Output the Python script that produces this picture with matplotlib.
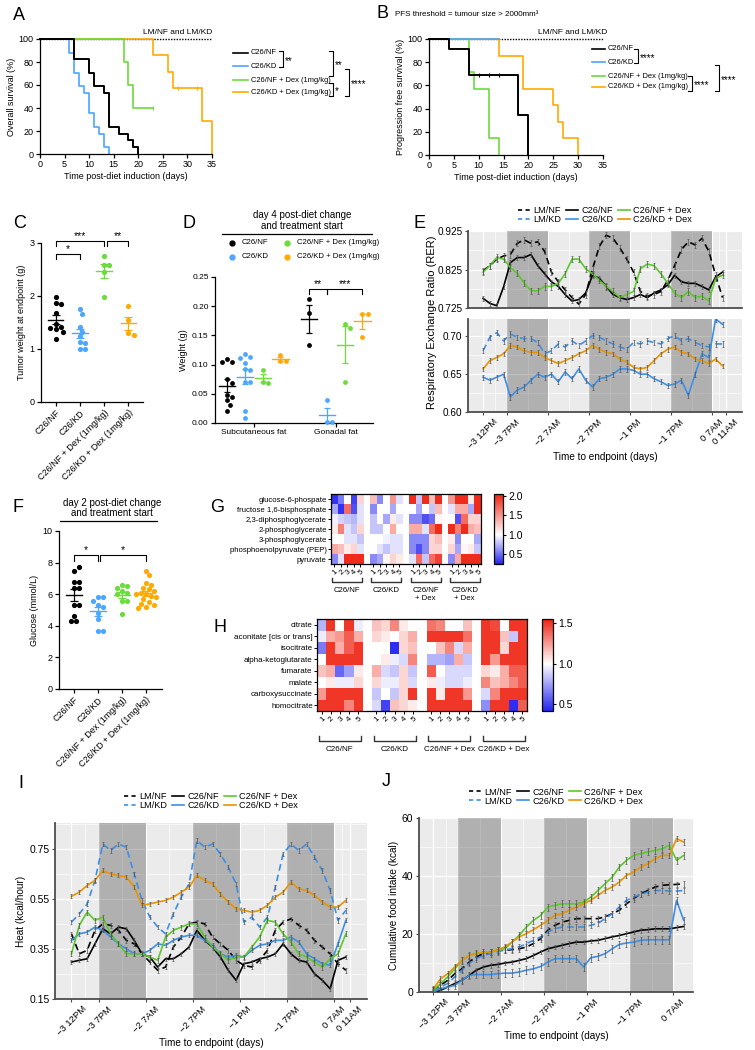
import numpy as np
import matplotlib
matplotlib.use('Agg')
import matplotlib.pyplot as plt
from matplotlib.lines import Line2D
from matplotlib.colors import LinearSegmentedColormap

plt.rcParams['font.family'] = ['Liberation Sans', 'DejaVu Sans']
plt.rcParams['axes.unicode_minus'] = True

# ---------------- data ----------------
groups = ['C26/NF', 'C26/KD', 'C26/NF + Dex (1mg/kg)', 'C26/KD + Dex (1mg/kg)']

# A: overall survival (days, %)
a_nf_t = [0, 7, 10, 11, 13, 14, 16, 18, 19, 20]
a_nf_s = [100, 82.4, 70.6, 58.8, 52.9, 23.5, 17.6, 11.8, 5.9, 0]
a_kd_t = [0, 6, 7, 8, 9, 10, 11, 12, 13, 14]
a_kd_s = [100, 88.2, 70.6, 58.8, 52.9, 35.3, 23.5, 17.6, 5.9, 0]
a_nfdex_t = [0, 17, 18, 19, 23]
a_nfdex_s = [100, 80, 60, 40, 40]
a_kddex_t = [0, 23, 26, 27, 33, 35]
a_kddex_s = [100, 85.7, 71.4, 57.1, 28.6, 0]

# B: progression free survival (days, %)
b_nf_t = [0, 4, 8, 18, 20]
b_nf_s = [100, 91.7, 68.8, 34.4, 0]
b_kd_t = [0, 14]
b_kd_s = [100, 100]
b_nfdex_t = [0, 8, 9, 12, 14]
b_nfdex_s = [100, 71.4, 57.1, 14.3, 0]
b_kddex_t = [0, 14, 19, 25, 26, 27, 30]
b_kddex_s = [100, 85.7, 57.1, 42.9, 28.6, 14.3, 0]

# C: tumour weight (g)
c_nf = [1.99, 1.87, 1.84, 1.67, 1.48, 1.42, 1.40, 1.38, 1.33, 1.18]
c_kd = [1.75, 1.66, 1.42, 1.33, 1.24, 1.14, 1.12, 1.00, 1.00]
c_nfdex = [2.75, 2.58, 2.58, 2.45, 1.99]
c_kddex = [1.82, 1.55, 1.30, 1.26]

# D: fat weight (g)
d_sub = [[0.109, 0.104, 0.104, 0.075, 0.068, 0.048, 0.044, 0.039, 0.031, 0.020],
         [0.118, 0.113, 0.112, 0.102, 0.092, 0.090, 0.070, 0.070, 0.021, 0.008],
         [0.091, 0.071, 0.068],
         [0.117, 0.106, 0.106]]
d_gon = [[0.212, 0.189, 0.133],
         [0.039, 0.001, 0.001],
         [0.169, 0.163, 0.071],
         [0.187, 0.187, 0.148]]

# F: glucose (mmol/L)
f_nf = [7.5, 7.7, 6.8, 6.8, 6.4, 6.4, 5.3, 5.3, 4.6, 4.3, 4.3]
f_kd = [5.8, 5.8, 5.6, 5.3, 5.2, 4.8, 4.4, 3.7, 3.7]
f_nfdex = [6.6, 6.5, 6.4, 6.2, 6.1, 6.0, 5.6, 5.6, 4.75]
f_kddex = [7.5, 7.2, 6.7, 6.6, 6.4, 6.3, 6.2, 6.1, 6.0, 6.0, 5.9, 5.8, 5.7, 5.5, 5.4, 5.3, 5.2, 5.1]

# G: glycolysis metabolites (fold change), 5 mice per group
g_rows = ['glucose-6-phospate', 'fructose 1,6-bisphosphate', '2,3-diphosphoglycerate',
          '2-phosphoglycerate', '3-phosphoglycerate', 'phosphoenolpyruvate (PEP)', 'pyruvate']
g_nf = [[0.3, 0.55, 1.0, 0.35, 1.2], [0.7, 0.3, 1.7, 0.4, 0.9], [0.95, 0.85, 0.8, 0.75, 0.9],
        [1.1, 1.6, 0.9, 0.8, 1.2], [1.0, 1.0, 0.9, 0.9, 0.8], [1.4, 1.3, 1.1, 1.2, 0.9],
        [0.6, 0.9, 2.0, 2.0, 2.0]]
g_kd = [[1.3, 0.6, 1.0, 1.5, 0.9], [0.6, 1.0, 1.0, 0.7, 1.0], [0.8, 1.0, 0.7, 1.1, 0.9],
        [0.8, 0.8, 1.0, 1.4, 1.0], [1.0, 1.0, 0.95, 0.9, 0.9], [1.0, 0.9, 0.8, 0.9, 0.9],
        [0.6, 0.7, 1.05, 1.2, 1.1]]
g_nfdex = [[2.0, 0.8, 2.0, 1.3, 2.0], [1.0, 0.7, 1.0, 0.8, 1.3], [0.6, 0.6, 0.4, 0.5, 1.05],
           [1.4, 1.4, 0.9, 1.7, 2.0], [0.6, 0.6, 0.6, 1.2, 1.3], [0.6, 0.4, 0.6, 1.2, 1.2],
           [0.9, 1.7, 0.8, 1.7, 1.9]]
g_kddex = [[1.5, 2.0, 2.0, 1.1, 2.0], [0.9, 1.4, 1.4, 0.7, 2.0], [1.0, 0.4, 1.7, 1.2, 1.2],
           [2.0, 1.6, 2.0, 1.4, 1.3], [1.1, 0.6, 1.0, 1.0, 0.7], [1.2, 0.7, 1.05, 1.1, 0.8],
           [0.6, 1.4, 2.0, 2.0, 2.0]]

# H: TCA metabolites (fold change)
h_rows = ['citrate', 'aconitate [cis or trans]', 'isocitrate', 'alpha-ketoglutarate',
          'fumarate', 'malate', 'carboxysuccinate', 'homocitrate']
h_nf = [[0.8, 1.5, 1.0, 1.5, 0.95], [0.95, 1.2, 1.25, 1.4, 1.2], [0.65, 1.5, 1.2, 1.4, 1.5],
        [1.0, 1.5, 1.5, 1.5, 1.5], [1.15, 1.2, 0.6, 0.75, 1.05], [1.0, 1.05, 0.95, 0.95, 1.1],
        [1.25, 1.5, 1.5, 1.5, 1.5], [1.5, 1.5, 1.5, 1.3, 1.5]]
h_kd = [[1.15, 1.1, 1.3, 1.05, 1.0], [1.1, 1.05, 1.0, 1.1, 1.2], [1.0, 1.0, 0.45, 1.1, 1.15],
        [1.0, 1.05, 0.95, 0.9, 1.3], [1.2, 0.9, 0.85, 1.1, 0.85], [1.1, 0.95, 0.95, 1.1, 0.9],
        [0.85, 1.0, 0.85, 1.1, 1.5], [0.9, 0.5, 1.15, 1.1, 1.05]]
h_nfdex = [[1.35, 1.3, 1.0, 1.0, 1.15], [1.5, 1.5, 1.5, 1.5, 1.35], [1.0, 1.15, 1.3, 0.9, 1.2],
           [0.8, 0.8, 0.75, 1.2, 0.85], [1.4, 1.0, 0.9, 0.9, 0.9], [1.05, 0.95, 0.9, 0.9, 0.95],
           [1.5, 1.05, 1.5, 1.5, 1.25], [1.5, 1.5, 1.5, 1.5, 1.5]]
h_kddex = [[1.5, 1.45, 1.0, 1.5, 1.5], [1.5, 1.5, 1.15, 0.85, 1.5], [1.5, 1.5, 1.1, 1.5, 1.5],
           [1.5, 1.25, 1.5, 1.5, 1.5], [1.1, 1.05, 1.2, 1.4, 1.4], [1.3, 1.15, 1.2, 1.3, 1.4],
           [0.9, 1.3, 1.5, 1.5, 1.5], [0.7, 1.5, 1.5, 0.45, 1.4]]

# E, I, J: metabolic cages, hours from start of recording (every 2 h)
hours = np.arange(0, 72, 2)
nights = [(7, 19), (31, 43), (55, 67)]
tick_hours = [0, 7, 19, 31, 43, 55, 67, 71]
tick_labels = ['\u22123 12PM', '\u22123 7PM', '\u22122 7AM', '\u22122 7PM', '\u22121 PM',
               '\u22121 7PM', '0 7AM', '0 11AM']

e_lmnf = [0.822, 0.835, 0.852, 0.860, 0.864, 0.893, 0.902, 0.893, 0.897, 0.872, 0.818, 0.793,
          0.772, 0.752, 0.735, 0.760, 0.827, 0.885, 0.914, 0.906, 0.881, 0.852, 0.818, 0.768,
          0.756, 0.760, 0.768, 0.797, 0.835, 0.877, 0.897, 0.889, 0.906, 0.872, 0.810, 0.752]
e_nf = [0.750, 0.737, 0.731, 0.780, 0.843, 0.856, 0.856, 0.864, 0.835, 0.814, 0.793, 0.781,
        0.760, 0.743, 0.747, 0.764, 0.810, 0.802, 0.781, 0.760, 0.752, 0.747, 0.752, 0.760,
        0.752, 0.764, 0.772, 0.785, 0.810, 0.793, 0.789, 0.789, 0.781, 0.772, 0.806, 0.818]
e_nfdex = [0.818, 0.835, 0.856, 0.852, 0.830, 0.815, 0.790, 0.770, 0.770, 0.781, 0.781, 0.789,
           0.814, 0.852, 0.852, 0.827, 0.814, 0.797, 0.781, 0.768, 0.752, 0.760, 0.768, 0.827,
           0.839, 0.835, 0.814, 0.789, 0.764, 0.752, 0.768, 0.752, 0.756, 0.743, 0.802, 0.810]
e_lmkd = [0.681, 0.699, 0.705, 0.694, 0.703, 0.699, 0.697, 0.697, 0.692, 0.677, 0.681, 0.690,
          0.686, 0.694, 0.688, 0.694, 0.701, 0.699, 0.694, 0.690, 0.686, 0.683, 0.692, 0.690,
          0.694, 0.692, 0.690, 0.697, 0.701, 0.694, 0.697, 0.692, 0.688, 0.686, 0.690, 0.690]
e_kd = [0.646, 0.642, 0.646, 0.650, 0.620, 0.629, 0.633, 0.642, 0.650, 0.646, 0.650, 0.640,
        0.653, 0.644, 0.657, 0.642, 0.633, 0.644, 0.646, 0.650, 0.657, 0.657, 0.655, 0.650,
        0.650, 0.644, 0.640, 0.635, 0.637, 0.642, 0.622, 0.650, 0.677, 0.672, 0.723, 0.716]
e_kddex = [0.657, 0.668, 0.672, 0.677, 0.688, 0.686, 0.681, 0.679, 0.679, 0.672, 0.668, 0.664,
           0.668, 0.672, 0.677, 0.681, 0.688, 0.683, 0.679, 0.677, 0.670, 0.666, 0.659, 0.657,
           0.659, 0.668, 0.677, 0.683, 0.686, 0.679, 0.677, 0.670, 0.668, 0.664, 0.670, 0.661]

i_lmnf = [0.411, 0.331, 0.345, 0.425, 0.451, 0.445, 0.425, 0.385, 0.371, 0.331, 0.298, 0.265,
          0.278, 0.358, 0.398, 0.451, 0.458, 0.451, 0.398, 0.371, 0.345, 0.305, 0.285, 0.278,
          0.305, 0.345, 0.425, 0.458, 0.471, 0.445, 0.425, 0.385, 0.358, 0.331, 0.291, 0.265]
i_lmkd = [0.458, 0.491, 0.531, 0.625, 0.771, 0.745, 0.771, 0.758, 0.651, 0.545, 0.478, 0.438,
          0.411, 0.491, 0.558, 0.611, 0.785, 0.758, 0.771, 0.731, 0.678, 0.611, 0.458, 0.478,
          0.438, 0.478, 0.598, 0.731, 0.771, 0.745, 0.771, 0.718, 0.665, 0.585, 0.465, 0.505]
i_nf = [0.298, 0.305, 0.311, 0.371, 0.431, 0.411, 0.438, 0.431, 0.385, 0.331, 0.318, 0.278,
        0.311, 0.311, 0.331, 0.358, 0.425, 0.385, 0.358, 0.318, 0.265, 0.225, 0.291, 0.298,
        0.311, 0.318, 0.331, 0.371, 0.331, 0.305, 0.298, 0.251, 0.225, 0.191, 0.305, 0.318]
i_kd = [0.385, 0.411, 0.418, 0.438, 0.425, 0.398, 0.371, 0.351, 0.331, 0.331, 0.345, 0.371,
        0.365, 0.385, 0.398, 0.405, 0.405, 0.385, 0.365, 0.331, 0.318, 0.325, 0.318, 0.345,
        0.365, 0.371, 0.385, 0.385, 0.398, 0.378, 0.331, 0.311, 0.291, 0.285, 0.371, 0.465]
i_nfdex = [0.331, 0.445, 0.498, 0.465, 0.478, 0.411, 0.371, 0.331, 0.331, 0.331, 0.318, 0.305,
           0.398, 0.425, 0.438, 0.451, 0.451, 0.398, 0.358, 0.331, 0.305, 0.318, 0.318, 0.358,
           0.398, 0.465, 0.458, 0.411, 0.378, 0.331, 0.318, 0.298, 0.278, 0.311, 0.331, 0.411]
i_kddex = [0.561, 0.578, 0.605, 0.625, 0.665, 0.651, 0.645, 0.638, 0.600, 0.525, 0.531, 0.538,
           0.545, 0.558, 0.578, 0.598, 0.645, 0.625, 0.611, 0.571, 0.538, 0.511, 0.505, 0.498,
           0.505, 0.525, 0.558, 0.578, 0.618, 0.591, 0.585, 0.565, 0.538, 0.518, 0.518, 0.545]

j_lmnf = [0.6, 2.3, 4.0, 6.3, 8.0, 10.3, 12.1, 13.2, 13.8, 14.4, 14.4, 14.6, 14.9, 15.5, 16.7,
          18.4, 21.3, 23.0, 24.1, 24.7, 25.3, 25.3, 25.3, 25.3, 25.9, 27.0, 28.2, 30.4, 32.2,
          33.9, 35.0, 36.2, 36.8, 37.0, 37.1, 37.3]
j_lmkd = [0.2, 1.7, 2.9, 5.2, 7.5, 9.8, 11.5, 12.6, 13.2, 13.8, 14.6, 14.9, 15.5, 16.7, 17.8,
          19.0, 20.7, 21.8, 22.4, 22.4, 22.4, 22.4, 23.0, 23.6, 25.3, 27.0, 29.3, 31.6, 32.7,
          33.7, 34.5, 35.0, 35.0, 34.8, 34.8, 35.0]
j_nf = [0.0, 0.6, 1.7, 2.9, 4.0, 5.7, 7.5, 8.6, 9.2, 9.5, 10.0, 10.3, 10.9, 11.5, 12.6, 13.8,
        14.9, 15.5, 16.1, 16.7, 17.2, 17.2, 17.6, 17.8, 18.4, 19.0, 19.5, 20.1, 20.7, 21.3,
        21.5, 21.8, 21.8, 21.8, 22.2, 22.6]
j_kd = [0.0, 1.1, 1.7, 2.3, 4.0, 5.7, 6.0, 6.0, 6.0, 6.3, 6.5, 6.5, 6.9, 7.5, 8.0, 8.8, 10.3,
        11.5, 11.5, 11.5, 11.5, 8.6, 11.8, 12.3, 13.2, 14.9, 16.4, 16.9, 17.2, 17.8, 18.0, 18.0,
        18.0, 18.0, 31.6, 24.7]
j_nfdex = [0.5, 2.9, 5.2, 8.0, 10.9, 12.6, 13.4, 13.6, 13.8, 14.4, 14.9, 17.2, 19.5, 22.4,
           24.7, 26.4, 29.3, 29.9, 30.4, 30.4, 30.4, 31.0, 32.7, 35.0, 37.3, 39.6, 43.1, 45.4,
           47.1, 47.7, 48.3, 48.8, 49.4, 50.6, 45.4, 47.1]
j_kddex = [1.0, 4.5, 6.3, 8.6, 10.9, 12.6, 13.2, 13.8, 13.8, 14.6, 15.5, 17.2, 19.0, 20.1,
           21.5, 23.0, 24.7, 26.4, 27.0, 28.2, 29.3, 30.4, 31.6, 33.3, 35.0, 36.2, 37.9, 40.2,
           41.4, 43.1, 44.2, 46.0, 47.1, 47.1, 52.9, 51.7]

# ---------------- styling ----------------
W, H = 755, 1050
fig = plt.figure(figsize=(W / 100, H / 100), dpi=100)

p_cols = ['black', '#4da6ff', '#6ddb3c', '#ffaa00']   # GraphPad panels
g_cols = ['black', '#3d8fe6', '#5cc92a', '#e89400']   # ggplot panels


def box(l, t, r, b):
    return fig.add_axes([l / W, 1 - b / H, (r - l) / W, (b - t) / H])


def T(x, y, s, size=6.5, **kw):
    kw.setdefault('ha', 'left')
    kw.setdefault('va', 'center')
    fig.text(x / W, 1 - y / H, s, fontsize=size, **kw)


def fline(xs, ys, **kw):
    kw.setdefault('color', 'black')
    kw.setdefault('lw', 0.8)
    fig.add_artist(Line2D([x / W for x in xs], [1 - y / H for y in ys], **kw))


def rbracket(x, y1, y2, txt):
    fline([x - 4, x, x, x - 4], [y1, y1, y2, y2])
    T(x + 2, (y1 + y2) / 2 + 2, txt, 7)


def prism(ax, fs=6.5):
    for s in ('top', 'right'):
        ax.spines[s].set_visible(False)
    for s in ('left', 'bottom'):
        ax.spines[s].set_linewidth(0.9)
    ax.tick_params(direction='out', length=3, width=0.9, labelsize=fs, pad=1.5)


def gg(ax, fs=7.5):
    ax.set_facecolor('#ebebeb')
    for s in ('top', 'right'):
        ax.spines[s].set_visible(False)
    for s in ('left', 'bottom'):
        ax.spines[s].set_color('#4d4d4d')
        ax.spines[s].set_linewidth(1.3)
    ax.set_axisbelow(True)
    ax.grid(True, which='major', color='white', lw=0.9)
    ax.grid(True, which='minor', color='white', lw=0.45)
    ax.tick_params(which='major', length=2.5, color='#4d4d4d', labelsize=fs, pad=1.5)
    ax.tick_params(which='minor', length=0)
    for a, b in nights:
        ax.axvspan(a, b, color='black', alpha=0.25, lw=0, zorder=1)
    ax.set_xticks(tick_hours)
    mids = [(tick_hours[k] + tick_hours[k + 1]) / 2 for k in range(len(tick_hours) - 1)]
    ax.set_xticks(mids, minor=True)


def time_labels(ax, labels, fs=6.8):
    # ggplot-like 45 degree labels: bounding box centred under the tick
    ax.set_xticklabels(labels, rotation=45, ha='center', va='top', fontsize=fs)


def series(ax, y, col, dashed, err):
    ls = (0, (4, 2.5)) if dashed else '-'
    ax.plot(hours, y, color=col, lw=1.2, ls=ls, zorder=3, clip_on=True)
    ax.errorbar(hours, y, yerr=err, fmt='none', ecolor='#555555', elinewidth=0.5,
                capsize=1.0, capthick=0.5, zorder=4)


def gg_legend(ax, y_anchor):
    hs = [Line2D([], [], color=g_cols[0], ls=(0, (2.5, 2)), lw=1.2),
          Line2D([], [], color=g_cols[1], ls=(0, (2.5, 2)), lw=1.2),
          Line2D([], [], color=g_cols[0], lw=1.2), Line2D([], [], color=g_cols[1], lw=1.2),
          Line2D([], [], color=g_cols[2], lw=1.2), Line2D([], [], color=g_cols[3], lw=1.2)]
    labs = ['LM/NF', 'LM/KD', 'C26/NF', 'C26/KD', 'C26/NF + Dex', 'C26/KD + Dex']
    ax.legend(hs, labs, ncol=3, loc='lower center', bbox_to_anchor=(0.5, y_anchor),
              frameon=False, fontsize=6.6, handlelength=1.3, columnspacing=0.5,
              labelspacing=0.0, handletextpad=0.35, borderpad=0.1)


def swarm(vals, ypx, xpx, d=5.2):
    pts, offs = [], []
    for v in vals:
        y = v * ypx
        pos = 0.0
        for k in range(40):
            cands = [0.0] if k == 0 else [k * d * 0.5, -k * d * 0.5]
            hit = [c for c in cands if all((c - px) ** 2 + (y - py) ** 2 >= d * d * 0.95
                                          for px, py in pts)]
            if hit:
                pos = hit[0]
                break
        pts.append((pos, y))
        offs.append(pos / xpx)
    return np.array(offs)


def dots(ax, x0, vals, col, ypx, xpx, mean_w, cap, s=14):
    vals = np.array(vals)
    ax.scatter(x0 + swarm(vals, ypx, xpx), vals, s=s, color=col, lw=0, zorder=3, clip_on=False)
    m = vals.mean()
    se = vals.std(ddof=1) / np.sqrt(len(vals))
    ax.plot([x0 - mean_w, x0 + mean_w], [m, m], color=col, lw=1.0, zorder=4)
    ax.errorbar(x0, m, yerr=se, color=col, lw=0.9, capsize=cap, capthick=0.9, zorder=4)


def sig(ax, x1, x2, y, drop, txt):
    ax.plot([x1, x1, x2, x2], [y - drop, y, y, y - drop], color='black', lw=0.8, clip_on=False)
    ax.text((x1 + x2) / 2, y, txt, ha='center', va='bottom', fontsize=7.5)


def heat(ax, cax, mats, rows, vmin, vmax, ticks, glabels, fs, br_y, lab_y):
    gap = np.full((len(rows), 1), np.nan)
    M = np.hstack([np.array(mats[0]), gap, np.array(mats[1]), gap,
                   np.array(mats[2]), gap, np.array(mats[3])])
    cmap = LinearSegmentedColormap.from_list(
        'bwr_c', [(0, '#2424f2'), ((1 - vmin) / (vmax - vmin), 'white'), (1, '#ee2211')])
    im = ax.pcolormesh(np.ma.masked_invalid(M), cmap=cmap, vmin=vmin, vmax=vmax)
    ax.set_xlim(0, M.shape[1])
    ax.set_ylim(len(rows), 0)
    ax.set_yticks(np.arange(len(rows)) + 0.5)
    ax.set_yticklabels(rows, fontsize=fs)
    cols = [g * 6 + k + 0.5 for g in range(4) for k in range(5)]
    ax.set_xticks(cols)
    ax.set_xticklabels([str(k + 1) for g in range(4) for k in range(5)], fontsize=fs,
                       rotation=45, ha='right', rotation_mode='anchor')
    ax.tick_params(length=2, width=0.7, pad=1)
    for s in ax.spines.values():
        s.set_linewidth(0.9)
    tr = ax.get_xaxis_transform()
    for g in range(4):
        x1, x2 = g * 6 + 0.2, g * 6 + 4.8
        ax.plot([x1, x1, x2, x2], [br_y + 0.06, br_y, br_y, br_y + 0.06], color='#333333',
                lw=1.0, transform=tr, clip_on=False)
        ax.text(g * 6 + 2.5, lab_y, glabels[g], transform=tr, ha='center', va='top',
                fontsize=fs, linespacing=1.1)
    cb = fig.colorbar(im, cax=cax, ticks=ticks)
    cb.outline.set_linewidth(0.9)
    cb.ax.tick_params(labelsize=7.5, length=2.5, width=0.8, pad=1.5)
    cb.ax.set_yticklabels(['%.1f' % t for t in ticks])


# ---------------- A ----------------
ax = box(40, 39, 212, 154)
prism(ax)
ax.plot([0, 35], [100, 100], color='black', lw=1.0, ls=(0, (1, 1)), clip_on=False, zorder=1)
ax.step(a_kddex_t, a_kddex_s, where='post', color=p_cols[3], lw=1.2, clip_on=False)
ax.step(a_nfdex_t, a_nfdex_s, where='post', color=p_cols[2], lw=1.2, clip_on=False)
ax.step(a_kd_t, a_kd_s, where='post', color=p_cols[1], lw=1.2, clip_on=False)
ax.step(a_nf_t, a_nf_s, where='post', color=p_cols[0], lw=1.4, clip_on=False)
ax.plot([23], [40], marker='|', ms=3, color=p_cols[2], mew=0.8)
ax.plot([28, 32], [57.1, 57.1], ls='none', marker='|', ms=3, color=p_cols[3], mew=0.8)
ax.set_xlim(0, 35)
ax.set_ylim(0, 100)
ax.set_xticks(range(0, 36, 5))
ax.set_yticks(range(0, 101, 20))
ax.set_xlabel('Time post-diet induction (days)', fontsize=6.5, labelpad=2)
ax.set_ylabel('Overall survival (%)', fontsize=6.5, labelpad=2)
T(212, 32, 'LM/NF and LM/KD', 6, ha='right')
for y, lab, col in zip([53, 66, 80, 92], groups, p_cols):
    fline([233, 248], [y, y], color=col, lw=1.2)
    T(251, y, lab, 5.4)
rbracket(283, 51, 67, '**')
rbracket(333, 51, 76, '**')
rbracket(333, 83, 96, '*')
rbracket(349, 69, 96, '****')

# ---------------- B ----------------
ax = box(429, 39, 603, 155)
prism(ax)
ax.plot([0, 35], [100, 100], color='black', lw=1.0, ls=(0, (1, 1)), clip_on=False, zorder=1)
ax.step(b_kddex_t, b_kddex_s, where='post', color=p_cols[3], lw=1.2, clip_on=False)
ax.step(b_nfdex_t, b_nfdex_s, where='post', color=p_cols[2], lw=1.2, clip_on=False)
ax.step(b_kd_t, b_kd_s, where='post', color=p_cols[1], lw=1.2, clip_on=False)
ax.step(b_nf_t, b_nf_s, where='post', color=p_cols[0], lw=1.4, clip_on=False)
ax.plot([10, 12, 14], [68.8] * 3, ls='none', marker='|', ms=3, color='black', mew=0.8)
ax.set_xlim(0, 35)
ax.set_ylim(0, 100)
ax.set_xticks(range(0, 36, 5))
ax.set_yticks(range(0, 101, 20))
ax.set_xlabel('Time post-diet induction (days)', fontsize=6.5, labelpad=2)
ax.set_ylabel('Progression free survival (%)', fontsize=6.5, labelpad=2)
T(607, 32, 'LM/NF and LM/KD', 6, ha='right')
T(395, 15, 'PFS threshold = tumour size > 2000mm\u00b3', 5.8)
for y, lab, col in zip([49, 62, 76, 87], groups, p_cols):
    fline([592, 605], [y, y], color=col, lw=1.2)
    T(608, y, lab, 5.4)
rbracket(638, 49, 63, '****')
rbracket(692, 76, 91, '****')
rbracket(719, 65, 91, '****')

# ---------------- C ----------------
ax = box(41, 243, 143, 402)
prism(ax)
ax.set_xlim(-0.6, 3.6)
ax.set_ylim(0, 3)
for i, (vals, col) in enumerate(zip([c_nf, c_kd, c_nfdex, c_kddex], p_cols)):
    dots(ax, i, vals, col, 53, 24.3, 0.32, 3)
sig(ax, 0, 1, 2.79, 0.1, '*')
sig(ax, 0, 2, 3.04, 0.09, '***')
sig(ax, 2.1, 3, 3.04, 0.1, '**')
ax.set_xticks(range(4))
ax.set_xticklabels(groups, rotation=45, ha='right', rotation_mode='anchor')
ax.set_yticks([0, 1, 2, 3])
ax.set_ylabel('Tumor weight at endpoint (g)', fontsize=6.5, labelpad=3)

# ---------------- D ----------------
ax = box(215, 277, 373, 423)
prism(ax, 6)
ax.set_xlim(-0.476, 1.45)
ax.set_ylim(0, 0.25)
offs = [-0.33, -0.11, 0.11, 0.32]
for gi, data in enumerate([d_sub, d_gon]):
    for k in range(4):
        dots(ax, gi + offs[k], data[k], p_cols[k], 584, 82, 0.1, 2.2, s=12)
sig(ax, 0.67, 0.89, 0.229, 0.008, '**')
sig(ax, 0.89, 1.32, 0.229, 0.008, '***')
ax.set_xticks([0, 1])
ax.set_xticklabels(['Subcutaneous fat', 'Gonadal fat'])
ax.set_yticks(np.arange(0, 0.26, 0.05))
ax.set_yticklabels(['%.2f' % v for v in np.arange(0, 0.26, 0.05)])
ax.set_ylabel('Weight (g)', fontsize=6.5, labelpad=3)
T(302, 215, 'day 4 post-diet change', 7, ha='center')
T(302, 226, 'and treatment start', 7, ha='center')
fline([222, 372], [234, 234], lw=0.9)
for (x, y), lab, col in zip([(232, 243), (232, 257), (287, 243), (287, 257)], groups, p_cols):
    fig.add_artist(Line2D([x / W], [1 - y / H], marker='o', ms=3.5, color=col, ls='none'))
    T(x + 10, y, lab, 5.6)

# ---------------- E ----------------
e_top = box(468, 231, 742, 308)
e_bot = box(468, 319, 742, 412)
for ax in (e_top, e_bot):
    gg(ax, 7.2)
    ax.set_xlim(-4.4, 75.7)
e_top.set_ylim(0.725, 0.925)
e_top.set_yticks([0.725, 0.825, 0.925])
e_top.set_yticklabels(['0.725', '0.825', '0.925'])
e_top.set_yticks([0.775, 0.875], minor=True)
e_top.tick_params(axis='x', labelbottom=False, length=0)
series(e_top, e_lmnf, g_cols[0], True, 0.008)
series(e_top, e_nf, g_cols[0], False, 0.006)
series(e_top, e_nfdex, g_cols[2], False, 0.008)
e_bot.set_ylim(0.60, 0.723)
e_bot.set_yticks([0.60, 0.65, 0.70])
e_bot.set_yticklabels(['0.60', '0.65', '0.70'])
e_bot.set_yticks([0.625, 0.675], minor=True)
series(e_bot, e_lmkd, g_cols[1], True, 0.0035)
series(e_bot, e_kd, g_cols[1], False, 0.0035)
series(e_bot, e_kddex, g_cols[3], False, 0.0030)
time_labels(e_bot, tick_labels)
e_bot.set_xlabel('Time to endpoint (days)', fontsize=7.2, labelpad=1)
gg_legend(e_top, 1.02)
T(432, 322, 'Respiratory Exchange Ratio (RER)', 8, ha='center', rotation=90)

# ---------------- F ----------------
ax = box(59, 531, 162, 689)
prism(ax)
ax.set_xlim(-0.62, 3.67)
ax.set_ylim(0, 10)
for i, (vals, col) in enumerate(zip([f_nf, f_kd, f_nfdex, f_kddex], p_cols)):
    dots(ax, i, vals, col, 15.8, 24, 0.32, 3)
sig(ax, 0, 1, 8.47, 0.38, '*')
sig(ax, 1.1, 3, 8.47, 0.38, '*')
ax.set_xticks(range(4))
ax.set_xticklabels(groups, rotation=45, ha='right', rotation_mode='anchor')
ax.set_yticks(range(0, 11, 2))
ax.set_ylabel('Glucose (mmol/L)', fontsize=6.5, labelpad=3)
T(112, 503, 'day 2 post-diet change', 7, ha='center')
T(112, 513, 'and treatment start', 7, ha='center')
fline([60, 157], [521, 521], lw=0.9)

# ---------------- G ----------------
ax = box(331, 494, 481, 564)
cax = box(494, 494, 503, 564)
heat(ax, cax, [g_nf, g_kd, g_nfdex, g_kddex], g_rows, 0.25, 2.05, [0.5, 1.0, 1.5, 2.0],
     ['C26/NF', 'C26/KD', 'C26/NF\n+ Dex', 'C26/KD\n+ Dex'], 5.6, -0.26, -0.33)

# ---------------- H ----------------
ax = box(317, 619, 527, 711)
cax = box(542, 619, 553, 711)
heat(ax, cax, [h_nf, h_kd, h_nfdex, h_kddex], h_rows, 0.42, 1.55, [0.5, 1.0, 1.5],
     ['C26/NF', 'C26/KD', 'C26/NF + Dex', 'C26/KD + Dex'], 5.8, -0.33, -0.38)

# ---------------- I ----------------
ax = box(55, 823, 367, 999)
gg(ax, 7.5)
ax.set_xlim(-4.2, 75.4)
ax.set_ylim(0.15, 0.855)
ax.set_yticks([0.15, 0.35, 0.55, 0.75])
ax.set_yticklabels(['0.15', '0.35', '0.55', '0.75'])
ax.set_yticks([0.25, 0.45, 0.65, 0.85], minor=True)
series(ax, i_lmnf, g_cols[0], True, 0.009)
series(ax, i_lmkd, g_cols[1], True, 0.009)
series(ax, i_nf, g_cols[0], False, 0.008)
series(ax, i_kd, g_cols[1], False, 0.008)
series(ax, i_nfdex, g_cols[2], False, 0.010)
series(ax, i_kddex, g_cols[3], False, 0.008)
time_labels(ax, tick_labels)
ax.set_xlabel('Time to endpoint (days)', fontsize=7.2, labelpad=0)
ax.set_ylabel('Heat (kcal/hour)', fontsize=7.2, labelpad=2)
gg_legend(ax, 1.04)

# ---------------- J ----------------
ax = box(419, 818, 693, 992)
gg(ax, 7.5)
ax.set_xticks(tick_hours[:-1])
ax.set_xticks([(tick_hours[k] + tick_hours[k + 1]) / 2 for k in range(6)], minor=True)
ax.set_xlim(-4, 72.6)
ax.set_ylim(0, 60)
ax.set_yticks([0, 20, 40, 60])
ax.set_yticks([10, 30, 50], minor=True)
series(ax, j_lmnf, g_cols[0], True, 1.0)
series(ax, j_lmkd, g_cols[1], True, 1.0)
series(ax, j_nf, g_cols[0], False, 0.8)
series(ax, j_kd, g_cols[1], False, 1.3)
series(ax, j_nfdex, g_cols[2], False, 1.2)
series(ax, j_kddex, g_cols[3], False, 1.0)
time_labels(ax, tick_labels[:-1])
ax.set_xlabel('Time to endpoint (days)', fontsize=7.2, labelpad=0)
ax.set_ylabel('Cumulative food intake (kcal)', fontsize=7.2, labelpad=2)
gg_legend(ax, 1.04)

# ---------------- panel letters ----------------
for x, y, s in [(13, 15, 'A'), (377, 13, 'B'), (13, 223, 'C'), (182, 223, 'D'), (413, 223, 'E'),
                (13, 508, 'F'), (210, 507, 'G'), (213, 627, 'H'), (18, 783, 'I'), (382, 782, 'J')]:
    T(x, y, s, 13)

fig.savefig('out.png', dpi=100)
